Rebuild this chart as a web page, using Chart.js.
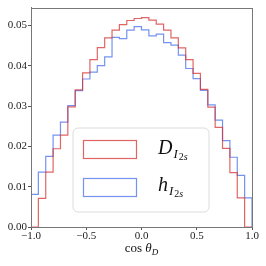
<!DOCTYPE html>
<html>
<head>
<meta charset="utf-8">
<script src="https://cdn.jsdelivr.net/npm/chart.js@4/dist/chart.umd.min.js"></script>
<style>
html,body{margin:0;padding:0;background:#fff;}
#wrap{width:266px;height:266px;position:relative;}
</style>
</head>
<body>
<div id="wrap"><canvas id="c" width="266" height="266"></canvas></div>
<script>
// Bin edges of cos(theta_D) histogram (30 bins)
const binEdges = [-1.0,-0.9333,-0.8667,-0.8,-0.7333,-0.6667,-0.6,-0.5333,-0.4667,-0.4,-0.3333,-0.2667,-0.2,-0.1333,-0.0667,0.0,
  0.0667,0.1333,0.2,0.2667,0.3333,0.4,0.4667,0.5333,0.6,0.6667,0.7333,0.8,0.8667,0.9333,1.0];
// D_{I_2s} normalized counts per bin
const dValues = [0.0,0.0071,0.0136,0.0194,0.0228,0.0298,0.0340,0.0382,0.0415,0.0445,0.0469,0.0488,0.0502,0.0512,0.0517,
  0.0519,0.0513,0.0503,0.0488,0.0469,0.0444,0.0415,0.0381,0.0341,0.0297,0.0247,0.0195,0.0135,0.0072,0.0];
// h_{I_2s} normalized counts per bin
const hValues = [0.0081,0.0136,0.0175,0.0228,0.0260,0.0301,0.0338,0.0367,0.0384,0.0400,0.0422,0.0470,0.0467,0.0488,0.0497,
  0.0489,0.0474,0.0478,0.0457,0.0451,0.0426,0.0393,0.0368,0.0339,0.0303,0.0265,0.0214,0.0173,0.0128,0.0072];
const xTicks = [-1.0,-0.5,0.0,0.5,1.0];
const yTicks = [0.00,0.01,0.02,0.03,0.04,0.05];
const seriesLabels = ['D','h'];

const RED = 'rgba(214,50,50,0.75)';
const BLUE = 'rgba(70,110,235,0.75)';

function stepPoints(vals){
  const pts = [{x: binEdges[0], y: 0}];
  pts.push({x: binEdges[0], y: vals[0]});
  for (let i = 1; i < vals.length; i++) pts.push({x: binEdges[i], y: vals[i]});
  pts.push({x: binEdges[binEdges.length-1], y: vals[vals.length-1]});
  pts.push({x: binEdges[binEdges.length-1], y: 0});
  return pts;
}

const SERIF = '"Liberation Serif","DejaVu Serif",serif';

const decor = {
  id: 'decor',
  afterDraw(chart){
    const ctx = chart.ctx, a = chart.chartArea;
    ctx.save();
    // frame
    ctx.strokeStyle = '#777';
    ctx.lineWidth = 1;
    ctx.strokeRect(Math.round(a.left)+0.5, Math.round(a.top)+0.5, Math.round(a.right-a.left), Math.round(a.bottom-a.top));
    // legend box
    const lx = 73, ly = 128, lw = 136, lh = 84, r = 5;
    ctx.beginPath();
    ctx.moveTo(lx+r, ly); ctx.lineTo(lx+lw-r, ly); ctx.arcTo(lx+lw, ly, lx+lw, ly+r, r);
    ctx.lineTo(lx+lw, ly+lh-r); ctx.arcTo(lx+lw, ly+lh, lx+lw-r, ly+lh, r);
    ctx.lineTo(lx+r, ly+lh); ctx.arcTo(lx, ly+lh, lx, ly+lh-r, r);
    ctx.lineTo(lx, ly+r); ctx.arcTo(lx, ly, lx+r, ly, r);
    ctx.closePath();
    ctx.fillStyle = 'rgba(255,255,255,0.8)';
    ctx.fill();
    ctx.strokeStyle = '#dcdcdc';
    ctx.stroke();
    // handles
    ctx.lineWidth = 1.2;
    ctx.strokeStyle = RED;
    ctx.strokeRect(83.5, 140.5, 53, 18);
    ctx.strokeStyle = BLUE;
    ctx.strokeRect(83.5, 178.5, 53, 18);
    // labels
    ctx.fillStyle = '#111';
    ctx.textBaseline = 'alphabetic';
    ctx.textAlign = 'left';
    const rows = [{t: seriesLabels[0], y: 154}, {t: seriesLabels[1], y: 191}];
    rows.forEach(row => {
      ctx.font = 'italic 20px ' + SERIF;
      ctx.fillText(row.t, 158, row.y);
      const w = ctx.measureText(row.t).width;
      ctx.font = 'italic 13px ' + SERIF;
      const sx = 158 + w + 1;
      ctx.fillText('I', sx, row.y + 4);
      const wi = ctx.measureText('I').width;
      ctx.font = '10px ' + SERIF;
      ctx.fillText('2', sx + wi + 1, row.y + 6);
      const w2 = ctx.measureText('2').width;
      ctx.font = 'italic 10px ' + SERIF;
      ctx.fillText('s', sx + wi + 1 + w2, row.y + 6);
    });
    // x axis title: cos θ_D
    ctx.font = '13px ' + SERIF;
    const t1 = 'cos ';
    const w1 = ctx.measureText(t1).width;
    ctx.font = 'italic 13px ' + SERIF;
    const wt = ctx.measureText('θ').width;
    ctx.font = 'italic 9px ' + SERIF;
    const wd = ctx.measureText('D').width;
    const total = w1 + wt + wd;
    let x0 = (a.left + a.right)/2 - total/2;
    const by = 252;
    ctx.font = '13px ' + SERIF;
    ctx.fillText(t1, x0, by);
    ctx.font = 'italic 13px ' + SERIF;
    ctx.fillText('θ', x0 + w1, by);
    ctx.font = 'italic 9px ' + SERIF;
    ctx.fillText('D', x0 + w1 + wt, by + 3);
    ctx.restore();
  }
};

new Chart(document.getElementById('c'), {
  type: 'line',
  data: {
    datasets: [
      {label: 'D', data: stepPoints(dValues), borderColor: RED, borderWidth: 1.2, stepped: 'before', pointRadius: 0, fill: false},
      {label: 'h', data: stepPoints(hValues), borderColor: BLUE, borderWidth: 1.2, stepped: 'before', pointRadius: 0, fill: false}
    ]
  },
  options: {
    responsive: false,
    animation: false,
    devicePixelRatio: 1,
    layout: {padding: {left: 0, right: 14, top: 7, bottom: 0}},
    plugins: {legend: {display: false}, tooltip: {enabled: false}},
    scales: {
      x: {
        type: 'linear', min: -1, max: 1,
        afterFit(s){ s.height = 39; },
        afterBuildTicks(s){ s.ticks = xTicks.map(v => ({value: v})); },
        ticks: {
          color: '#222', padding: 0, maxRotation: 0,
          font: {family: SERIF, size: 11},
          callback: v => (v < 0 ? '\u2212' : '') + Math.abs(v).toFixed(1)
        },
        grid: {drawOnChartArea: false, drawTicks: true, tickLength: 3, color: '#555'},
        border: {display: true, color: '#777'}
      },
      y: {
        type: 'linear', min: 0, max: 0.0544,
        afterFit(s){ s.width = 31; },
        afterBuildTicks(s){ s.ticks = yTicks.map(v => ({value: v})); },
        ticks: {
          color: '#222', padding: 1,
          font: {family: SERIF, size: 11},
          callback: v => v.toFixed(2)
        },
        grid: {drawOnChartArea: false, drawTicks: true, tickLength: 3, color: '#555'},
        border: {display: true, color: '#777'}
      }
    }
  },
  plugins: [decor]
});
</script>
</body>
</html>
